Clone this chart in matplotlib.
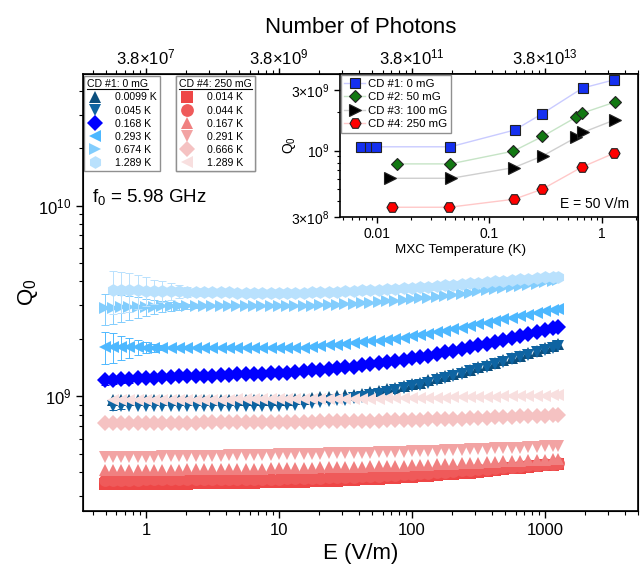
import numpy as np
import matplotlib.pyplot as plt
from matplotlib.lines import Line2D
from matplotlib.ticker import FixedLocator, FuncFormatter, LogLocator, NullFormatter

plt.rcParams['font.family'] = ['Liberation Sans', 'DejaVu Sans']
plt.rcParams['mathtext.fontset'] = 'custom'
plt.rcParams['mathtext.rm'] = 'Liberation Sans'
plt.rcParams['mathtext.it'] = 'Liberation Sans:italic'
plt.rcParams['mathtext.default'] = 'regular'

nan = np.nan

# applied field grid (V/m)
E_field = [0.49, 0.56, 0.65, 0.75, 0.87, 1.0, 1.15, 1.33,
           1.54, 1.78, 2.05, 2.37, 2.74, 3.16, 3.65, 4.22,
           4.87, 5.62, 6.49, 7.5, 8.66, 10, 11.5, 13.3,
           15.4, 17.8, 20.5, 23.7, 27.4, 31.6, 36.5, 42.2,
           48.7, 56.2, 64.9, 75, 86.6, 100, 115, 133,
           154, 178, 205, 237, 274, 316, 365, 422,
           487, 562, 649, 750, 866, 1000, 1155, 1250]
photons_per_E2 = 3.8e7  # number of photons at 1 V/m

# Q0 (x 1e9), CD #1: 0 mG
q1_0099 = [nan, 0.95, 0.95, 0.95, 0.955, 0.955, 0.955, 0.955,
           0.955, 0.955, 0.955, 0.955, 0.955, 0.955, 0.955, 0.955,
           0.955, 0.955, 0.955, 0.96, 0.96, 0.96, 0.96, 0.97,
           0.97, 0.98, 0.99, 0.99, 1.00, 1.01, 1.02, 1.03,
           1.05, 1.07, 1.09, 1.11, 1.13, 1.16, 1.18, 1.21,
           1.24, 1.27, 1.31, 1.34, 1.38, 1.42, 1.46, 1.50,
           1.54, 1.59, 1.63, 1.68, 1.73, 1.78, 1.84, 1.87]
q1_045 = [nan, 0.89, 0.89, 0.89, 0.89, 0.89, 0.89, 0.89,
          0.89, 0.89, 0.89, 0.89, 0.89, 0.89, 0.89, 0.89,
          0.89, 0.89, 0.89, 0.89, 0.89, 0.89, 0.90, 0.90,
          0.91, 0.92, 0.93, 0.94, 0.95, 0.96, 0.98, 0.99,
          1.01, 1.03, 1.05, 1.08, 1.10, 1.13, 1.15, 1.18,
          1.21, 1.24, 1.28, 1.31, 1.35, 1.39, 1.43, 1.47,
          1.51, 1.56, 1.60, 1.65, 1.70, 1.75, 1.80, 1.83]
q1_168 = [1.21, 1.22, 1.23, 1.23, 1.24, 1.25, 1.25, 1.26,
          1.26, 1.27, 1.27, 1.27, 1.28, 1.28, 1.29, 1.29,
          1.30, 1.30, 1.31, 1.31, 1.32, 1.32, 1.33, 1.34,
          1.35, 1.37, 1.38, 1.39, 1.40, 1.42, 1.43, 1.45,
          1.47, 1.49, 1.51, 1.53, 1.55, 1.58, 1.60, 1.63,
          1.66, 1.70, 1.73, 1.77, 1.81, 1.85, 1.89, 1.93,
          1.97, 2.02, 2.07, 2.12, 2.17, 2.22, 2.28, 2.31]
q1_293 = [1.82, 1.82, 1.81, 1.81, 1.81, 1.80, 1.80, 1.80,
          1.79, 1.79, 1.79, 1.79, 1.78, 1.78, 1.78, 1.78,
          1.78, 1.78, 1.78, 1.78, 1.78, 1.78, 1.78, 1.79,
          1.80, 1.82, 1.83, 1.85, 1.86, 1.88, 1.90, 1.92,
          1.94, 1.96, 1.98, 2.00, 2.03, 2.06, 2.09, 2.12,
          2.16, 2.20, 2.24, 2.28, 2.33, 2.38, 2.43, 2.48,
          2.53, 2.58, 2.63, 2.68, 2.73, 2.79, 2.85, 2.88]
q1_674 = [2.90, 2.92, 2.93, 2.94, 2.94, 2.95, 2.95, 2.96,
          2.96, 2.96, 2.96, 2.96, 2.96, 2.96, 2.96, 2.96,
          2.96, 2.96, 2.96, 2.96, 2.96, 2.96, 2.97, 2.97,
          2.98, 2.99, 3.00, 3.01, 3.02, 3.04, 3.06, 3.08,
          3.10, 3.12, 3.15, 3.17, 3.20, 3.23, 3.26, 3.29,
          3.33, 3.37, 3.41, 3.45, 3.50, 3.55, 3.60, 3.65,
          3.70, 3.75, 3.80, 3.85, 3.90, 3.96, 4.02, 4.05]
q1_1289 = [nan, 3.62, 3.61, 3.60, 3.59, 3.58, 3.57, 3.56,
           3.56, 3.55, 3.54, 3.53, 3.53, 3.52, 3.51, 3.51,
           3.50, 3.50, 3.49, 3.49, 3.48, 3.48, 3.48, 3.49,
           3.50, 3.51, 3.52, 3.53, 3.54, 3.56, 3.57, 3.59,
           3.60, 3.62, 3.64, 3.66, 3.68, 3.71, 3.73, 3.76,
           3.79, 3.82, 3.85, 3.88, 3.91, 3.94, 3.98, 4.01,
           4.04, 4.07, 4.11, 4.14, 4.17, 4.20, 4.23, 4.24]

# error bars at low field (x 1e9), first points only
err1_045 = [nan, 0.04, 0.03]
err1_168 = [0.06, 0.06, 0.05, 0.05, 0.04, 0.03]
err1_293 = [0.35, 0.32, 0.27, 0.22, 0.16, 0.12, 0.09, 0.06]
err1_674 = [0.55, 0.52, 0.48, 0.42, 0.36, 0.30, 0.25, 0.20, 0.15, 0.12, 0.09, 0.06]
err1_1289 = [nan, 0.92, 0.88, 0.82, 0.72, 0.62, 0.52, 0.44, 0.36, 0.28, 0.22, 0.16, 0.12]

# Q0 (x 1e9), CD #4: 250 mG
q4_014 = [0.345, 0.345, 0.345, 0.345, 0.345, 0.346, 0.346, 0.347,
          0.347, 0.348, 0.348, 0.349, 0.349, 0.350, 0.350, 0.351,
          0.351, 0.352, 0.352, 0.353, 0.354, 0.355, 0.356, 0.356,
          0.357, 0.358, 0.359, 0.360, 0.361, 0.363, 0.364, 0.366,
          0.367, 0.369, 0.371, 0.373, 0.375, 0.378, 0.380, 0.383,
          0.386, 0.389, 0.392, 0.395, 0.398, 0.402, 0.406, 0.410,
          0.414, 0.418, 0.422, 0.426, 0.430, 0.434, 0.438, 0.440]
q4_044 = [0.365, 0.365, 0.365, 0.365, 0.365, 0.366, 0.366, 0.366,
          0.366, 0.367, 0.367, 0.367, 0.367, 0.368, 0.368, 0.368,
          0.369, 0.369, 0.369, 0.370, 0.370, 0.370, 0.371, 0.371,
          0.372, 0.373, 0.374, 0.375, 0.376, 0.377, 0.378, 0.380,
          0.381, 0.383, 0.385, 0.387, 0.389, 0.392, 0.394, 0.397,
          0.399, 0.402, 0.405, 0.408, 0.411, 0.414, 0.417, 0.421,
          0.424, 0.427, 0.431, 0.434, 0.437, 0.440, 0.443, 0.445]
q4_167 = [0.410, 0.410, 0.410, 0.410, 0.411, 0.411, 0.411, 0.412,
          0.412, 0.412, 0.413, 0.413, 0.414, 0.414, 0.414, 0.415,
          0.415, 0.416, 0.416, 0.417, 0.418, 0.419, 0.420, 0.420,
          0.421, 0.422, 0.423, 0.423, 0.424, 0.425, 0.426, 0.427,
          0.428, 0.429, 0.430, 0.431, 0.433, 0.434, 0.436, 0.437,
          0.439, 0.441, 0.443, 0.445, 0.447, 0.449, 0.451, 0.453,
          0.455, 0.457, 0.459, 0.461, 0.463, 0.465, 0.467, 0.468]
q4_291 = [0.480, 0.480, 0.480, 0.481, 0.481, 0.482, 0.482, 0.483,
          0.484, 0.484, 0.485, 0.486, 0.487, 0.487, 0.488, 0.489,
          0.490, 0.491, 0.492, 0.493, 0.494, 0.495, 0.496, 0.497,
          0.498, 0.499, 0.500, 0.501, 0.502, 0.503, 0.504, 0.505,
          0.506, 0.507, 0.509, 0.510, 0.511, 0.513, 0.514, 0.516,
          0.518, 0.520, 0.522, 0.524, 0.526, 0.528, 0.530, 0.532,
          0.534, 0.536, 0.538, 0.540, 0.542, 0.545, 0.548, 0.550]
q4_666 = [0.725, 0.725, 0.725, 0.725, 0.726, 0.726, 0.726, 0.727,
          0.727, 0.727, 0.728, 0.728, 0.729, 0.729, 0.730, 0.730,
          0.730, 0.731, 0.731, 0.732, 0.732, 0.733, 0.734, 0.734,
          0.735, 0.736, 0.737, 0.738, 0.739, 0.740, 0.741, 0.743,
          0.744, 0.745, 0.747, 0.748, 0.750, 0.752, 0.753, 0.755,
          0.757, 0.759, 0.761, 0.763, 0.766, 0.768, 0.771, 0.774,
          0.777, 0.780, 0.783, 0.786, 0.789, 0.792, 0.796, 0.798]
q4_1289 = [nan, 0.960, 0.960, 0.960, 0.960, 0.960, 0.960, 0.960,
           0.960, 0.960, 0.960, 0.960, 0.961, 0.961, 0.961, 0.961,
           0.962, 0.962, 0.962, 0.962, 0.963, 0.963, 0.963, 0.964,
           0.964, 0.965, 0.965, 0.966, 0.967, 0.968, 0.969, 0.970,
           0.971, 0.972, 0.973, 0.974, 0.975, 0.976, 0.978, 0.979,
           0.981, 0.983, 0.985, 0.987, 0.989, 0.991, 0.993, 0.995,
           0.998, 1.000, 1.002, 1.004, 1.006, 1.008, 1.010, 1.011]

# inset: Q0 (x 1e9) vs MXC temperature at E = 50 V/m
T_cd1 = [0.0072, 0.0086, 0.0099, 0.045, 0.168, 0.293, 0.674, 1.289]
Q_cd1 = [1.07, 1.07, 1.07, 1.07, 1.45, 1.94, 3.10, 3.60]
T_cd2 = [0.015, 0.045, 0.164, 0.297, 0.593, 0.672, 1.30]
Q_cd2 = [0.785, 0.785, 0.99, 1.29, 1.83, 1.97, 2.40]
T_cd3 = [0.013, 0.046, 0.166, 0.30, 0.593, 0.68, 1.30]
Q_cd3 = [0.605, 0.605, 0.735, 0.91, 1.27, 1.39, 1.74]
T_cd4 = [0.0137, 0.044, 0.166, 0.295, 0.662, 1.289]
Q_cd4 = [0.358, 0.358, 0.414, 0.496, 0.739, 0.953]

E = np.array(E_field)
W, H = 640, 575

fig = plt.figure(figsize=(6.4, 5.75), dpi=100)
ax = fig.add_axes([83 / W, 1 - 511 / H, (638 - 83) / W, (511 - 74) / H])

cd1 = [('0.0099 K', q1_0099, '^', '#0b4f7e', None),
       ('0.045 K', q1_045, 'v', '#0e64a2', err1_045),
       ('0.168 K', q1_168, 'D', '#0000ff', err1_168),
       ('0.293 K', q1_293, '<', '#4db8ff', err1_293),
       ('0.674 K', q1_674, '>', '#82cdfd', err1_674),
       ('1.289 K', q1_1289, 'h', '#b9e1fd', err1_1289)]
cd4 = [('0.014 K', q4_014, 's', '#ee4646', None),
       ('0.044 K', q4_044, 'o', '#ef5a5a', None),
       ('0.167 K', q4_167, '^', '#f08080', None),
       ('0.291 K', q4_291, 'v', '#f2a3a3', None),
       ('0.666 K', q4_666, 'D', '#f5c2c2', None),
       ('1.289 K', q4_1289, '<', '#f8dfdf', None)]

handles1, handles4 = [], []
z = 2
for group, hl in ((cd1, handles1), (cd4, handles4)):
    for lab, q, mk, col, err in group:
        qv = np.array(q) * 1e9
        if err is not None:
            n = len(err)
            ax.errorbar(E[:n], qv[:n], yerr=np.array(err) * 1e9, fmt='none', ecolor=col,
                        elinewidth=0.7, capsize=3, capthick=0.7, zorder=z)
        ms = 8 if mk == 'D' else 9.2
        h, = ax.plot(E, qv, ls='none', marker=mk, ms=ms, color=col, mec=col, mew=0,
                     label=lab, zorder=z + 0.5)
        hl.append(h)
        z += 1

ax.set_xscale('log')
ax.set_yscale('log')
ax.set_xlim(0.336, 5000)
ax.set_ylim(2.5e8, 4.9e10)
ax.xaxis.set_major_locator(FixedLocator([1, 10, 100, 1000]))
ax.xaxis.set_major_formatter(FuncFormatter(lambda v, p: '%g' % v))
ax.tick_params(which='both', direction='out', top=False, right=False, labelsize=12)
ax.tick_params(which='major', length=5, width=1)
ax.tick_params(which='minor', length=3, width=0.8)
ax.set_xlabel('E (V/m)', fontsize=16, labelpad=4)
ax.set_ylabel('Q$_0$', fontsize=16)
ax.yaxis.set_label_coords(-0.078, 0.5)
for s in ax.spines.values():
    s.set_linewidth(1.2)

# top axis: number of photons ~ E^2
top = ax.twiny()
top.set_xscale('log')
top.set_xlim(ax.get_xlim())
top.xaxis.set_major_locator(FixedLocator([1, 10, 100, 1000]))
top.xaxis.set_minor_locator(LogLocator(base=10, subs=np.arange(2, 10)))


def photon_label(v, pos):
    n = photons_per_E2 * v ** 2
    ex = int(round(np.log10(n / 3.8)))
    return r'$3.8{\times}10^{%d}$' % ex


top.xaxis.set_major_formatter(FuncFormatter(photon_label))
top.xaxis.set_minor_formatter(NullFormatter())
top.tick_params(which='both', direction='out', labelsize=12, pad=0)
top.tick_params(which='major', length=4.5, width=1)
top.tick_params(which='minor', length=3, width=0.8)
top.set_xlabel('Number of Photons', fontsize=16, labelpad=11)

fig.text(92 / W, 1 - 197 / H, 'f$_0$ = 5.98 GHz', fontsize=13.5, va='center')

legs = []
for hl, title, x0 in ((handles1, 'CD #1: 0 mG', 84), (handles4, 'CD #4: 250 mG', 176)):
    leg = ax.legend(handles=hl, title=title, loc='upper left',
                    bbox_to_anchor=(x0 / W, 1 - 76 / H), bbox_transform=fig.transFigure,
                    fontsize=7.6, title_fontsize=7.6, fancybox=False, edgecolor='#909090',
                    framealpha=1, borderpad=0.3, labelspacing=0.3, handlelength=1.4,
                    handletextpad=1.2, borderaxespad=0, alignment='left', numpoints=1)
    leg.get_frame().set_linewidth(1.0)
    leg.set_zorder(30)
    ax.add_artist(leg)
    legs.append(leg)

# inset
axin = fig.add_axes([340 / W, 1 - 217 / H, (638 - 340) / W, (217 - 74) / H])
axin.set_zorder(40)
inset_sets = [('CD #1: 0 mG', T_cd1, Q_cd1, 's', '#1530f0', '#c9cbff', 7),
              ('CD #2: 50 mG', T_cd2, Q_cd2, 'D', '#127812', '#c6e4c6', 6.3),
              ('CD #3: 100 mG', T_cd3, Q_cd3, '>', '#000000', '#cfcfcf', 8),
              ('CD #4: 250 mG', T_cd4, Q_cd4, 'H', '#ff0000', '#ffc8c8', 8)]
for lab, t, q, mk, col, lcol, ms in inset_sets:
    axin.plot(t, np.array(q) * 1e9, ls='-', lw=1, color=lcol, marker=mk, ms=ms,
              mfc=col, mec='#222222', mew=0.8, label=lab)
axin.set_xscale('log')
axin.set_yscale('log')
axin.set_xlim(0.0047, 2.1)
axin.set_ylim(3.0e8, 4.0e9)
axin.xaxis.set_major_locator(FixedLocator([0.01, 0.1, 1]))
axin.xaxis.set_major_formatter(FuncFormatter(lambda v, p: '%g' % v))
axin.yaxis.set_major_locator(FixedLocator([3e8, 1e9, 3e9]))
axin.yaxis.set_major_formatter(FuncFormatter(
    lambda v, p: {3e8: r'$3{\times}10^{8}$', 1e9: r'$10^{9}$', 3e9: r'$3{\times}10^{9}$'}.get(v, '')))
axin.yaxis.set_minor_locator(LogLocator(base=10, subs=np.arange(2, 10)))
axin.yaxis.set_minor_formatter(NullFormatter())
axin.tick_params(which='both', direction='out', top=False, right=False, labelsize=10)
axin.tick_params(which='major', length=4, width=1)
axin.tick_params(which='minor', length=2.5, width=0.8)
axin.set_xlabel('MXC Temperature (K)', fontsize=9.7)
axin.xaxis.set_label_coords(0.406, -0.19)
axin.set_ylabel('Q$_0$', fontsize=10)
axin.yaxis.set_label_coords(-0.141, 0.5)
axin.text(0.97, 0.09, 'E = 50 V/m', transform=axin.transAxes, ha='right', va='center', fontsize=10)
ileg = axin.legend(loc='upper left', bbox_to_anchor=(0.003, 0.99), borderaxespad=0,
                   fontsize=8.2, fancybox=False, edgecolor='#909090', framealpha=1,
                   borderpad=0.3, labelspacing=0.3, handlelength=1.8, handletextpad=0.3)
ileg.get_frame().set_linewidth(1.0)
for s in axin.spines.values():
    s.set_linewidth(1.2)

# underline legend titles
fig.canvas.draw()
inv = fig.transFigure.inverted()
for leg in legs:
    bb = leg.get_title().get_window_extent()
    (x0, y0), (x1, y1) = inv.transform([[bb.x0, bb.y0], [bb.x1, bb.y0]])
    fig.add_artist(Line2D([x0, x1], [y0 + 0.001, y1 + 0.001], color='black', lw=0.8,
                          transform=fig.transFigure, zorder=50))

fig.savefig('out.png', dpi=100)
